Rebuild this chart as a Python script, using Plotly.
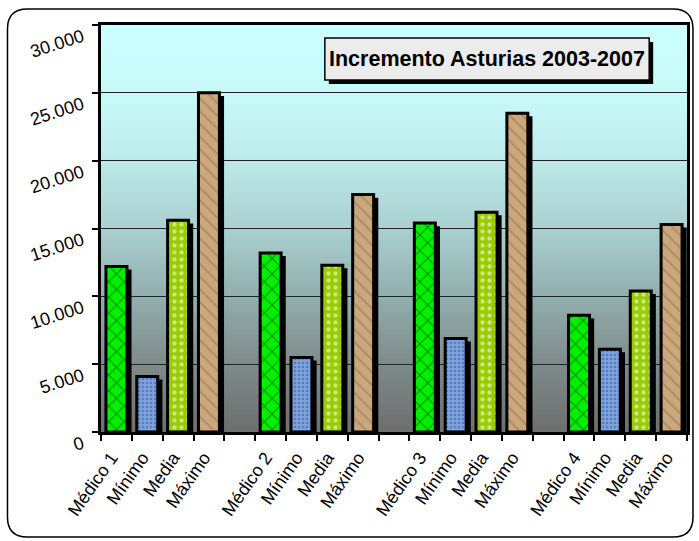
import plotly.graph_objects as go

# ---------------- data ----------------
groups = ["Médico 1", "Médico 2", "Médico 3", "Médico 4"]
series_names = ["Médico", "Mínimo", "Media", "Máximo"]
medico = [12200, 13200, 15400, 8600]
minimo = [4100, 5500, 6900, 6100]
media = [15600, 12300, 16200, 10400]
maximo = [25000, 17500, 23500, 15300]
y_tickvals = [0, 5000, 10000, 15000, 20000, 25000, 30000]
y_ticktext = ["0", "5.000", "10.000", "15.000", "20.000", "25.000", "30.000"]
title_text = "Incremento Asturias 2003-2007"

# category layout: 4 bars per group, one empty slot between groups
x_labels = []
for gi, g in enumerate(groups):
    x_labels += [g, "Mínimo", "Media", "Máximo"]
    if gi < len(groups) - 1:
        x_labels.append("")
n_cat = len(x_labels)

def positions(k):
    return [gi * 5 + k for gi in range(len(groups))]

# ---------------- geometry helpers (pixels -> paper) ----------------
W, H = 699, 541
ML, MR, MT, MB = 101, 9, 25, 109
PW, PH = W - ML - MR, H - MT - MB
def xp(px):
    return (px - ML) / PW
def yp(py):
    return (H - MB - py) / PH

fig = go.Figure()

styles = [
    dict(bg="#00f000", fg="#062806", shape="x", size=11, sol=0.18),
    dict(bg="#7ea2dc", fg="#2f57a0", shape=".", size=4, sol=0.35),
    dict(bg="#99cc00", fg="#ffffff", shape=".", size=7, sol=0.3),
    dict(bg="#caa77c", fg="#8a6a44", shape="\\", size=9, sol=0.18),
]
vals = [medico, minimo, media, maximo]
BW = 0.68
SH_DX = 0.15

# shadows first
for k in range(4):
    fig.add_trace(go.Bar(
        x=positions(k), y=vals[k], base=-230,
        width=BW, offset=-BW / 2 + SH_DX,
        marker=dict(color="#000000", line=dict(width=0)),
        showlegend=False, hoverinfo="skip",
    ))
for k in range(4):
    s = styles[k]
    fig.add_trace(go.Bar(
        x=positions(k), y=vals[k], name=series_names[k],
        width=BW, offset=-BW / 2,
        marker=dict(
            color=s["bg"],
            line=dict(color="#000000", width=3),
            pattern=dict(shape=s["shape"], bgcolor=s["bg"], fgcolor=s["fg"],
                         size=s["size"], solidity=s["sol"], fillmode="overlay"),
        ),
        showlegend=False,
    ))

shapes = []
# gradient background of plot area
stops = [(0.0, (204, 255, 255)), (0.17, (200, 250, 250)), (0.33, (190, 234, 234)),
         (0.50, (170, 208, 208)), (0.67, (146, 174, 174)), (0.83, (127, 140, 140)),
         (1.0, (110, 110, 110))]
def col(t):
    for (t0, c0), (t1, c1) in zip(stops[:-1], stops[1:]):
        if t0 <= t <= t1:
            f = (t - t0) / (t1 - t0)
            return "rgb(%d,%d,%d)" % tuple(round(a + (b - a) * f) for a, b in zip(c0, c1))
    return "rgb(110,110,110)"
NB = 100
for i in range(NB):
    y1 = 1 - i / NB
    y0 = 1 - (i + 1) / NB
    shapes.append(dict(type="rect", xref="paper", yref="paper", x0=0, x1=1,
                       y0=y0, y1=y1 + 0.002, fillcolor=col((i + 0.5) / NB),
                       line=dict(width=0), layer="below"))

# outer rounded border
x0p, x1p, y0p, y1p = 7, 696, 9, 537
r = 20
def pt(px, py):
    return "%.5f,%.5f" % (xp(px), yp(py))
path = ("M " + pt(x0p + r, y0p) + " L " + pt(x1p - r, y0p) +
        " Q " + pt(x1p, y0p) + " " + pt(x1p, y0p + r) +
        " L " + pt(x1p, y1p - r) +
        " Q " + pt(x1p, y1p) + " " + pt(x1p - r, y1p) +
        " L " + pt(x0p + r, y1p) +
        " Q " + pt(x0p, y1p) + " " + pt(x0p, y1p - r) +
        " L " + pt(x0p, y0p + r) +
        " Q " + pt(x0p, y0p) + " " + pt(x0p + r, y0p) + " Z")
shapes.append(dict(type="path", xref="paper", yref="paper", path=path,
                   line=dict(color="#000000", width=1.5), layer="above"))

# title box with shadow
bx0, by0, bx1, by1 = 326, 38, 652, 80
shapes.append(dict(type="rect", xref="paper", yref="paper",
                   x0=xp(bx0 + 4), x1=xp(bx1 + 4), y0=yp(by1 + 4), y1=yp(by0 + 4),
                   fillcolor="#000000", line=dict(width=0), layer="above"))
shapes.append(dict(type="rect", xref="paper", yref="paper",
                   x0=xp(bx0), x1=xp(bx1), y0=yp(by1), y1=yp(by0),
                   fillcolor="#ececec", line=dict(color="#000000", width=1.5), layer="above"))

fig.add_annotation(x=xp((bx0 + bx1) / 2), y=yp((by0 + by1) / 2), xref="paper", yref="paper",
                   text="<b>" + title_text + "</b>", showarrow=False,
                   font=dict(family="Liberation Sans, Arial", size=21.5, color="#000000"),
                   xanchor="center", yanchor="middle")

fig.update_layout(
    width=W, height=H,
    margin=dict(l=ML, r=MR, t=MT, b=MB),
    paper_bgcolor="#ffffff", plot_bgcolor="rgba(0,0,0,0)",
    barmode="overlay",
    shapes=shapes,
    font=dict(family="Liberation Sans, Arial", color="#000000"),
)
fig.update_xaxes(
    range=[-0.5, n_cat - 0.5],
    tickmode="array", tickvals=list(range(n_cat)), ticktext=x_labels,
    tickangle=-55, tickfont=dict(size=18), ticks="", showgrid=False,
    ticklabelstandoff=5, ticklabelshift=-5,
    minor=dict(tickmode="linear", tick0=-0.5, dtick=1, ticks="outside",
               ticklen=6, tickwidth=1.5, tickcolor="#000000", showgrid=False),
    showline=True, linecolor="#000000", linewidth=3, mirror=True, zeroline=False,
)
fig.update_yaxes(
    range=[0, 30000],
    tickmode="array", tickvals=y_tickvals, ticktext=y_ticktext,
    tickangle=-18, tickfont=dict(size=18),
    ticks="outside", ticklen=6, tickwidth=1.5, tickcolor="#000000",
    ticklabelstandoff=6, ticklabelshift=10,
    showgrid=True, gridcolor="#222222", gridwidth=1,
    showline=True, linecolor="#000000", linewidth=3, mirror=True, zeroline=False,
)

fig.write_html("out.html", config={"displayModeBar": False},
               post_script="document.body.style.margin='0';")
